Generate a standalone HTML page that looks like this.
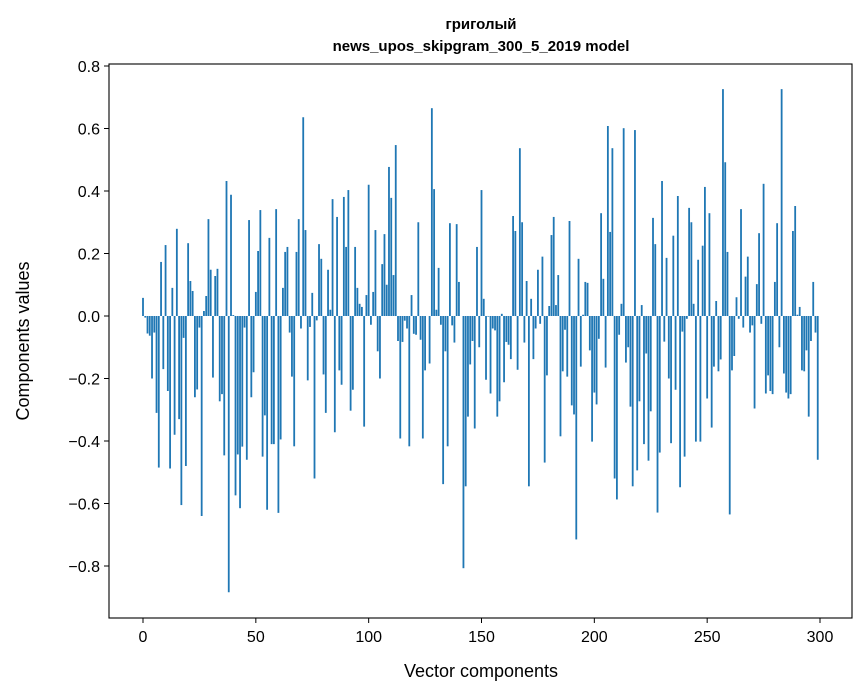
<!DOCTYPE html>
<html><head><meta charset="utf-8"><style>
body{margin:0;background:#fff}
svg{display:block;font-family:"Liberation Sans","DejaVu Sans",sans-serif}
</style></head><body>
<svg id="chart" width="867" height="696">
<text x="481" y="29" text-anchor="middle" font-size="15" font-weight="bold">григолый</text>
<text x="481" y="51" text-anchor="middle" font-size="15" font-weight="bold">news_upos_skipgram_300_5_2019 model</text>
<g id="bars"></g>
<g id="axes"></g>
<text x="481" y="677" text-anchor="middle" font-size="18">Vector components</text>
<text transform="translate(29,341) rotate(-90)" text-anchor="middle" font-size="18">Components values</text>
</svg>
<script>
const values = [0.058,-0.005,-0.056,-0.063,-0.2,-0.053,-0.31,-0.485,0.173,-0.17,0.227,-0.24,-0.488,0.09,-0.38,0.279,-0.33,-0.605,-0.07,-0.48,
0.233,0.112,0.08,-0.26,-0.235,-0.037,-0.64,0.016,0.064,0.31,0.148,-0.197,0.128,0.151,-0.273,-0.25,-0.446,0.432,-0.884,0.388,
0.003,-0.574,-0.443,-0.615,-0.418,-0.037,-0.46,0.307,-0.26,-0.18,0.077,0.208,0.339,-0.45,-0.318,-0.62,0.25,-0.41,-0.41,0.342,
-0.63,-0.395,0.09,0.205,0.221,-0.053,-0.194,-0.417,0.205,0.31,-0.04,0.636,0.275,-0.206,-0.035,0.074,-0.52,-0.014,0.23,0.183,
-0.187,-0.31,0.148,0.02,0.374,-0.372,0.317,-0.174,-0.22,0.381,0.221,0.403,-0.303,-0.236,0.221,0.09,0.039,0.029,-0.354,0.067,
0.42,-0.028,0.077,0.275,-0.113,-0.2,0.166,0.262,0.1,0.477,0.378,0.131,0.547,-0.08,-0.392,-0.083,-0.015,-0.04,-0.417,0.067,
-0.057,-0.06,0.3,-0.076,-0.392,-0.174,0,-0.152,0.665,0.406,0.02,0.154,-0.028,-0.538,-0.113,-0.417,0.297,-0.03,-0.085,0.294,
0.109,0,-0.807,-0.545,-0.322,-0.155,-0.08,-0.36,0.221,-0.1,0.403,0.055,-0.204,-0.002,-0.248,-0.04,-0.046,-0.322,-0.273,0.007,
-0.212,-0.083,-0.092,-0.138,0.32,0.272,-0.172,0.537,0.3,-0.085,0.112,-0.545,0.055,-0.138,-0.04,0.148,-0.025,0.19,-0.469,-0.19,
0.032,0.259,0.317,0.035,0.131,-0.385,-0.177,-0.044,-0.194,0.304,-0.286,-0.315,-0.715,0.183,-0.162,0.004,0.109,0.106,-0.11,-0.402,
-0.245,-0.283,-0.073,0.329,0.119,-0.165,0.608,0.269,0.537,-0.52,-0.587,-0.06,0.039,0.601,-0.149,-0.1,-0.29,-0.545,0.595,-0.494,
-0.273,0.035,-0.41,-0.12,-0.463,-0.305,0.314,0.23,-0.629,-0.437,0.432,-0.082,0.186,-0.2,-0.407,0.257,-0.236,0.384,-0.548,-0.05,
-0.45,-0.009,0.346,0.3,0.039,-0.402,0.18,-0.402,0.225,0.413,-0.264,0.329,-0.357,-0.162,0.048,-0.177,-0.139,0.726,0.492,0.205,
-0.635,-0.174,-0.128,0.06,-0.009,0.342,-0.037,0.126,0.19,-0.053,-0.03,-0.296,0.102,0.265,-0.025,0.423,-0.248,-0.19,-0.24,-0.25,
0.109,0.297,-0.1,0.726,-0.184,-0.245,-0.264,-0.25,0.272,0.352,0.004,0.029,-0.174,-0.177,-0.11,-0.322,-0.08,0.109,-0.053,-0.46];
const xTicks = [0,50,100,150,200,250,300];
const yTicks = [-0.8,-0.6,-0.4,-0.2,0.0,0.2,0.4,0.6,0.8];
const yTickLabels = ["\u22120.8","\u22120.6","\u22120.4","\u22120.2","0.0","0.2","0.4","0.6","0.8"];

const L=109,R=852,T=64,B=618;
const xs = v => 143 + v*(677/300);
const ys = v => 316 - v*312.5;
const NS="http://www.w3.org/2000/svg";
const bars=document.getElementById('bars'), axes=document.getElementById('axes');
function mk(tag,a){const e=document.createElementNS(NS,tag);for(const k in a)e.setAttribute(k,a[k]);return e;}
values.forEach((v,i)=>{
  const bw=0.8*(677/300);
  const r=mk('rect',{x:xs(i)-bw/2,y:Math.min(ys(v),ys(0)),width:bw,height:Math.abs(ys(v)-ys(0)),fill:'#1f77b4'});
  
  
  bars.appendChild(r);
});
const frame=mk('rect',{x:L,y:T,width:R-L,height:B-T,fill:'none',stroke:'#000','stroke-width':1.1});


axes.appendChild(frame);
xTicks.forEach(t=>{
  const x=xs(t);
  const l=mk('line',{x1:x,x2:x,y1:B,y2:B+5,stroke:'#000','stroke-width':1});
  
  
  axes.appendChild(l);
  const tx=mk('text',{x:x,y:B+24,'text-anchor':'middle','font-size':16});
  tx.textContent=t;
  
  
  axes.appendChild(tx);
});
yTicks.forEach((t,i)=>{
  const y=ys(t);
  const l=mk('line',{x1:L-5,x2:L,y1:y,y2:y,stroke:'#000','stroke-width':1});
  
  
  axes.appendChild(l);
  const tx=mk('text',{x:L-9,y:y+6,'text-anchor':'end','font-size':16});
  tx.textContent=yTickLabels[i];
  
  
  axes.appendChild(tx);
});
</script>
</body></html>
